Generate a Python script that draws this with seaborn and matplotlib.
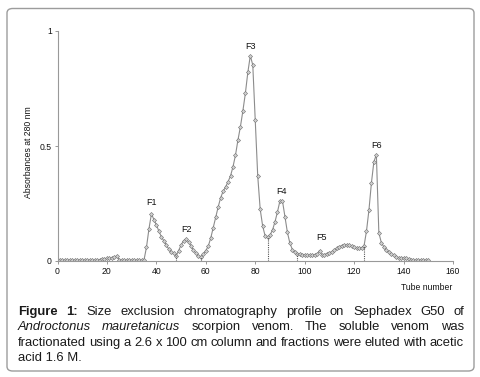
import numpy as np
import pandas as pd
import seaborn as sns
import matplotlib
matplotlib.use("Agg")
import matplotlib.pyplot as plt
from matplotlib.patches import FancyBboxPatch

# ---- data ----
tubes = list(range(0, 151))
absorb = (
    [0.003] * 17 +                                   # 0-16
    [0.005, 0.008, 0.010, 0.011, 0.012, 0.013, 0.016, 0.022] +  # 17-24
    [0.005] + [0.003] * 9 +                          # 25-34
    [0.005, 0.06, 0.14, 0.205, 0.18, 0.157, 0.13, 0.106, 0.088, 0.07,   # 35-44
     0.052, 0.04, 0.033, 0.022, 0.045, 0.07, 0.088, 0.094, 0.084, 0.065,  # 45-54
     0.048, 0.033, 0.023, 0.019, 0.03, 0.045, 0.065, 0.1, 0.145, 0.19,    # 55-64
     0.235, 0.275, 0.303, 0.322, 0.345, 0.37, 0.41, 0.46, 0.526, 0.584,   # 65-74
     0.653, 0.729, 0.82, 0.893, 0.852, 0.613, 0.37, 0.225, 0.152, 0.109, # 75-84
     0.103, 0.113, 0.135, 0.171, 0.214, 0.262, 0.262, 0.193, 0.125, 0.078, # 85-94
     0.05, 0.038, 0.032, 0.03, 0.028, 0.027, 0.025, 0.026, 0.028, 0.027,  # 95-104
     0.03, 0.045, 0.025, 0.028, 0.032, 0.036, 0.04, 0.047, 0.055, 0.062,  # 105-114
     0.067, 0.069, 0.07, 0.068, 0.064, 0.06, 0.057, 0.056, 0.058, 0.065,  # 115-124
     0.13, 0.222, 0.34, 0.432, 0.462, 0.123, 0.08, 0.062, 0.048, 0.038,   # 125-134
     0.03, 0.025, 0.019, 0.015, 0.014, 0.012, 0.012, 0.008, 0.005] +      # 135-143
    [0.003] * 7                                       # 144-150
)
cut_tubes = [48, 58, 85, 97, 124]
peak_labels = ["F1", "F2", "F3", "F4", "F5", "F6"]
peak_label_x = [38.1, 52.3, 78.0, 90.8, 106.7, 129.2]
peak_label_y = [0.253, 0.135, 0.933, 0.301, 0.104, 0.50]
x_ticks = [0, 20, 40, 60, 80, 100, 120, 140, 160]
y_ticks = [0, 0.5, 1]
y_tick_labels = ["0", "0.5", "1"]

df = pd.DataFrame({"tube": tubes, "abs": absorb})

sns.set_theme(style="white")
plt.rcParams["font.family"] = ["Liberation Sans", "DejaVu Sans"]

W, H = 480, 377
fig = plt.figure(figsize=(W / 100, H / 100), dpi=100)
ax = fig.add_axes([57.5 / W, 1 - 261 / H, (453 - 57.5) / W, (261 - 31) / H])

sns.lineplot(data=df, x="tube", y="abs", ax=ax, color="#8c8c8c", linewidth=0.8,
             marker="D", markersize=2.1, markerfacecolor="#cfcfcf",
             markeredgecolor="#707070", markeredgewidth=0.4)

for t in cut_tubes:
    ax.plot([t, t], [0, absorb[t]], linestyle=(0, (1, 1)), color="#555555", linewidth=0.8)

for lab, lx, ly in zip(peak_labels, peak_label_x, peak_label_y):
    ax.text(lx, ly, lab, ha="center", va="center", fontsize=6.5, color="#111111")

ax.set_xlim(0, 160)
ax.set_ylim(0, 1)
ax.set_xticks(x_ticks)
ax.set_xticklabels([str(v) for v in x_ticks], fontsize=6.2, color="#111111")
ax.set_yticks(y_ticks)
ax.set_yticklabels(y_tick_labels, fontsize=6.2, color="#111111")
ax.tick_params(axis="both", direction="out", length=2, width=0.6, color="#888888", pad=2,
               bottom=True, left=True)
for s in ["top", "right"]:
    ax.spines[s].set_visible(False)
for s in ["left", "bottom"]:
    ax.spines[s].set_color("#999999")
    ax.spines[s].set_linewidth(0.8)
ax.set_xlabel("")
ax.set_ylabel("")
ax.patch.set_alpha(0)

fig.text(426.7 / W, 1 - 288 / H, "Tube number", ha="center", va="center", fontsize=6.2, color="#111111")
fig.text(29 / W, 1 - 152 / H, "Absorbances at 280 nm", rotation=90, ha="center", va="center",
         fontsize=6.2, color="#111111")

# border
border = FancyBboxPatch((7 / W, 1 - 371 / H), (474 - 7) / W, (371 - 8.5) / H,
                        boxstyle="round,pad=0,rounding_size=0.012",
                        transform=fig.transFigure, facecolor="none",
                        edgecolor="#9c9c9c", linewidth=1.0)
fig.add_artist(border)

# caption (justified)
cap_lines = [
    [("Figure", "bold", "normal"), ("1:", "bold", "normal"), ("Size", "normal", "normal"),
     ("exclusion", "normal", "normal"), ("chromatography", "normal", "normal"),
     ("profile", "normal", "normal"), ("on", "normal", "normal"), ("Sephadex", "normal", "normal"),
     ("G50", "normal", "normal"), ("of", "normal", "normal")],
    [("Androctonus", "normal", "italic"), ("mauretanicus", "normal", "italic"),
     ("scorpion", "normal", "normal"), ("venom.", "normal", "normal"), ("The", "normal", "normal"),
     ("soluble", "normal", "normal"), ("venom", "normal", "normal"), ("was", "normal", "normal")],
    [(w, "normal", "normal") for w in
     "fractionated using a 2.6 x 100 cm column and fractions were eluted with acetic".split()],
]
last_line = "acid 1.6 M."
baselines = [315.0, 330.3, 345.6, 360.9]
left_px, right_px = 18.0, 464.0
cap_size = 9.4
renderer = fig.canvas.get_renderer()
for words, yb in zip(cap_lines, baselines[:3]):
    objs = []
    for w, weight, style in words:
        t = fig.text(0, 1 - yb / H, w, ha="left", va="baseline", fontsize=cap_size,
                     fontweight=weight, fontstyle=style, color="#1a1a1a")
        objs.append(t)
    widths = [o.get_window_extent(renderer).width for o in objs]
    gap = (right_px - left_px - sum(widths)) / (len(objs) - 1)
    x = left_px
    for o, wdt in zip(objs, widths):
        o.set_x(x / W)
        x += wdt + gap
fig.text(left_px / W, 1 - baselines[3] / H, last_line, ha="left", va="baseline",
         fontsize=cap_size, color="#1a1a1a")

fig.savefig("out.png", dpi=100)
